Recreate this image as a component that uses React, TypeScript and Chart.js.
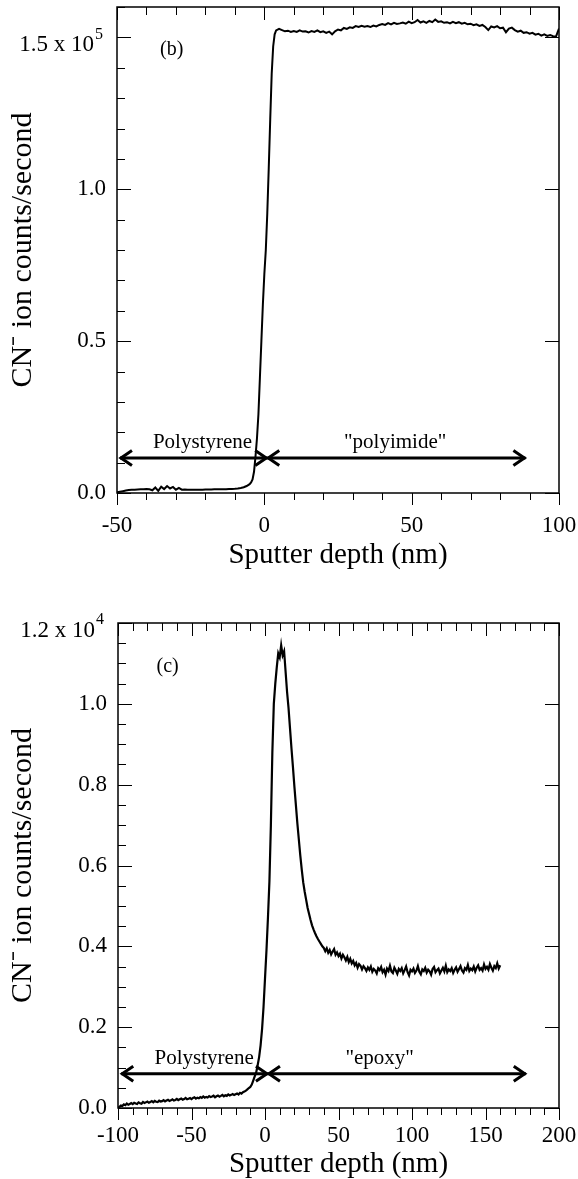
import React, { useEffect, useRef } from 'react';
import { Chart, registerables } from 'chart.js';

Chart.register(...registerables);

const SERIF = '"Liberation Serif", "Times New Roman", Times, serif';

// ---------------- Panel (b): polystyrene on "polyimide" ----------------
const depthB = [
  -50, -49, -48, -47, -46, -45, -44, -43, -42, -41,
  -40, -39, -38, -37, -36, -35, -34, -33, -32, -31,
  -30, -29, -28, -27, -26, -25, -24, -23, -22, -21,
  -20, -19, -18, -17, -16, -15, -14, -13, -12, -11,
  -10, -9, -8, -7, -6, -5, -4.5, -4, -3.5, -3,
  -2.5, -2, -1.5, -1, -0.5, 0, 0.5, 1, 1.5, 2,
  2.5, 3, 3.5, 4, 5, 6, 7, 8, 9, 10,
  11, 12, 13, 14, 15, 16, 17, 18, 19, 20,
  21, 22, 23, 24, 25, 26, 27, 28, 29, 30,
  31, 32, 33, 34, 35, 36, 37, 38, 39, 40,
  41, 42, 43, 44, 45, 46, 47, 48, 49, 50,
  51, 52, 53, 54, 55, 56, 57, 58, 59, 60,
  61, 62, 63, 64, 65, 66, 67, 68, 69, 70,
  71, 72, 73, 74, 75, 76, 77, 78, 79, 80,
  81, 82, 83, 84, 85, 86, 87, 88, 89, 90,
  91, 92, 93, 94, 95, 96, 97, 98, 99, 100,
];
const countsB = [
  200, 400, 600, 800, 950, 1050, 1100, 1150, 1200, 1250,
  1300, 1200, 900, 1800, 700, 2100, 1300, 2300, 1500, 2000,
  1100, 1700, 1100, 1150, 1100, 1100, 1100, 1100, 1100, 1100,
  1150, 1150, 1150, 1200, 1200, 1200, 1250, 1250, 1300, 1350,
  1400, 1500, 1650, 1900, 2300, 2900, 3500, 4500, 7000, 12000,
  18000, 26000, 38000, 50000, 62000, 72000, 80000, 92000, 107000, 123000,
  138000, 147000, 151000, 152300, 152800, 152400, 152000, 152200, 151800, 152100,
  151800, 152300, 151900, 152000, 151600, 152100, 151800, 152300, 151700, 152000,
  151500, 151900, 151000, 152000, 152600, 152300, 153100, 152800, 153300, 153100,
  153700, 153400, 153800, 153500, 153700, 153400, 153900, 153600, 154100, 154400,
  154100, 154700, 154300, 154800, 154400, 154600, 154900, 154500, 155200, 154700,
  155000, 155700, 154900, 155300, 154800, 155400, 155000, 155900, 155100, 155300,
  154800, 155000, 154600, 155100, 154700, 155000, 154500, 154800, 154300, 154500,
  154000, 154300, 153800, 154100, 153400, 152400, 153600, 153300, 153700, 153000,
  153200, 151700, 152900, 153200, 152400, 151900, 152200, 151500, 151700, 151200,
  151500, 150900, 151200, 150600, 151000, 150500, 150800, 150400, 150300, 152900,
];
const xTicksB = [-50, 0, 50, 100];
const xTickLabelsB = ['-50', '0', '50', '100'];
const yTicksB = [0, 50000, 100000, 150000];
const yTickLabelsB = ['0.0', '0.5', '1.0', '1.5 x 10'];
const yExponentB = '5';
const arrowSpansB = [[-49, 1], [1, 88.6]];
const arrowLevelB = 11500;
const regionNamesB = ['Polystyrene', '"polyimide"'];
const regionCentersB = [-21, 44.4];
const panelTagB = '(b)';
const panelTagAtB = [-35.4, 146000];

// ---------------- Panel (c): polystyrene on "epoxy" ----------------
const depthC = [
  -100, -99, -98, -97, -96, -95, -94, -93, -92, -91,
  -90, -89, -88, -87, -86, -85, -84, -83, -82, -81,
  -80, -79, -78, -77, -76, -75, -74, -73, -72, -71,
  -70, -69, -68, -67, -66, -65, -64, -63, -62, -61,
  -60, -59, -58, -57, -56, -55, -54, -53, -52, -51,
  -50, -49, -48, -47, -46, -45, -44, -43, -42, -41,
  -40, -39, -38, -37, -36, -35, -34, -33, -32, -31,
  -30, -29, -28, -27, -26, -25, -24, -23, -22, -21,
  -20, -19, -18, -17, -16, -15, -14, -13, -12, -11,
  -10, -9, -8, -7, -6, -5, -4, -3, -2, -1,
  0, 1, 2, 3, 4, 5, 6, 7, 8, 9,
  10, 11, 12, 13, 14, 15, 16, 17, 18, 19,
  20, 21, 22, 23, 24, 25, 26, 27, 28, 29,
  30, 31, 32, 33, 34, 35, 36, 37, 38, 39,
  40, 41, 42, 43, 44, 45, 46, 47, 48, 49,
  50, 51, 52, 53, 54, 55, 56, 57, 58, 59,
  60, 61, 62, 63, 64, 65, 66, 67, 68, 69,
  70, 71, 72, 73, 74, 75, 76, 77, 78, 79,
  80, 81, 82, 83, 84, 85, 86, 87, 88, 89,
  90, 91, 92, 93, 94, 95, 96, 97, 98, 99,
  100, 101, 102, 103, 104, 105, 106, 107, 108, 109,
  110, 111, 112, 113, 114, 115, 116, 117, 118, 119,
  120, 121, 122, 123, 124, 125, 126, 127, 128, 129,
  130, 131, 132, 133, 134, 135, 136, 137, 138, 139,
  140, 141, 142, 143, 144, 145, 146, 147, 148, 149,
  150, 151, 152, 153, 154, 155, 156, 157, 158, 159,
  160,
];
const countsC = [
  0, 30, 60, 50, 90, 70, 110, 80, 100, 120,
  95, 130, 110, 100, 140, 120, 105, 150, 125, 140,
  160, 130, 150, 170, 140, 175, 155, 145, 180, 160,
  170, 195, 165, 185, 205, 175, 190, 215, 185, 200,
  225, 195, 215, 235, 205, 220, 250, 215, 230, 245,
  220, 250, 265, 230, 255, 240, 270, 250, 285, 255,
  275, 260, 295, 270, 285, 305, 265, 290, 310, 280,
  300, 325, 290, 315, 300, 335, 310, 325, 345, 320,
  340, 360, 335, 375, 355, 390, 405, 430, 460, 495,
  520, 580, 680, 780, 880, 1060, 1260, 1550, 1950, 2500,
  3200, 3900, 4700, 5600, 7000, 8800, 10000, 10500, 10900, 11250,
  11150, 11450, 11200, 11300, 10800, 10300, 9900, 9400, 8900, 8440,
  7950, 7500, 7050, 6650, 6250, 5900, 5580, 5350, 5150, 4950,
  4800, 4650, 4520, 4420, 4330, 4250, 4180, 4120, 4060, 4000,
  3960, 3880, 3950, 3840, 3910, 3800, 3870, 3930, 3790, 3850,
  3760, 3820, 3700, 3790, 3730, 3650, 3740, 3610, 3690, 3580,
  3640, 3530, 3590, 3470, 3560, 3520, 3430, 3510, 3460, 3390,
  3480, 3420, 3500, 3370, 3440, 3400, 3330, 3460, 3410, 3490,
  3360, 3420, 3300, 3450, 3390, 3520, 3380, 3340, 3470, 3400,
  3320, 3440, 3390, 3460, 3330, 3410, 3500, 3360, 3280, 3420,
  3380, 3450, 3340, 3400, 3510, 3370, 3310, 3430, 3390, 3470,
  3350, 3420, 3380, 3300, 3440, 3490, 3360, 3410, 3450, 3330,
  3400, 3470, 3380, 3520, 3360, 3430, 3390, 3460, 3340, 3420,
  3480, 3370, 3440, 3510, 3400, 3350, 3460, 3420, 3540, 3390,
  3450, 3410, 3500, 3380, 3470, 3530, 3420, 3460, 3400, 3550,
  3440, 3490, 3420, 3560, 3470, 3400, 3510, 3460, 3580, 3450,
  3530,
];
const xTicksC = [-100, -50, 0, 50, 100, 150, 200];
const xTickLabelsC = ['-100', '-50', '0', '50', '100', '150', '200'];
const yTicksC = [0, 2000, 4000, 6000, 8000, 10000, 12000];
const yTickLabelsC = ['0.0', '0.2', '0.4', '0.6', '0.8', '1.0', '1.2 x 10'];
const yExponentC = '4';
const arrowSpansC = [[-97.8, 2], [2, 177.4]];
const arrowLevelC = 850;
const regionNamesC = ['Polystyrene', '"epoxy"'];
const regionCentersC = [-41.4, 78];
const panelTagC = '(c)';
const panelTagAtC = [-73.8, 10910];

const X_TITLE = 'Sputter depth (nm)';
const Y_TITLE = 'CN\u207B ion counts/second';

const isMultiple = (v: number, step: number) => Math.abs(v / step - Math.round(v / step)) < 1e-6;

const frameTicks = {
  id: 'frameTicks',
  afterDatasetsDraw(chart: any, _args: any, o: any) {
    const { ctx, chartArea: a, scales } = chart;
    const xs = scales.x;
    const ys = scales.y;
    ctx.save();
    ctx.strokeStyle = '#000';
    ctx.fillStyle = '#000';
    ctx.lineWidth = 1;
    for (let v = o.xMin; v <= o.xMax + 1e-9; v += o.xMinor) {
      const px = Math.round(xs.getPixelForValue(v)) + 0.5;
      const major = isMultiple(v, o.xMajor);
      ctx.beginPath();
      ctx.moveTo(px, a.bottom);
      ctx.lineTo(px, a.bottom + (major ? 12 : 7));
      ctx.moveTo(px, a.top);
      ctx.lineTo(px, a.top + (major ? 13 : 8));
      ctx.stroke();
    }
    for (let v = o.yMin; v <= o.yMax + 1e-9; v += o.yMinor) {
      const py = Math.round(ys.getPixelForValue(v)) + 0.5;
      const major = isMultiple(v, o.yMajor);
      ctx.beginPath();
      ctx.moveTo(a.left, py);
      ctx.lineTo(a.left + (major ? 14 : 8), py);
      if (major) {
        ctx.moveTo(a.right, py);
        ctx.lineTo(a.right - 14, py);
      }
      ctx.stroke();
    }
    ctx.lineWidth = 1.5;
    ctx.strokeRect(a.left, a.top, a.right - a.left, a.bottom - a.top);

    const ey = ys.getPixelForValue(o.expValue);
    ctx.font = `23px ${SERIF}`;
    ctx.textAlign = 'right';
    ctx.textBaseline = 'middle';
    ctx.fillText(o.expBase, a.left - 23, ey + 8);
    ctx.font = `16px ${SERIF}`;
    ctx.textAlign = 'left';
    ctx.fillText(o.expSup, a.left - 22, ey - 3);

    const ay = ys.getPixelForValue(o.arrowLevel);
    ctx.lineWidth = 3;
    ctx.lineJoin = 'miter';
    const head = 12;
    const hw = 7.5;
    o.arrows.forEach((s: number[]) => {
      const x1 = xs.getPixelForValue(s[0]);
      const x2 = xs.getPixelForValue(s[1]);
      ctx.beginPath();
      ctx.moveTo(x1, ay);
      ctx.lineTo(x2, ay);
      ctx.stroke();
      ctx.beginPath();
      ctx.moveTo(x1 + head, ay - hw);
      ctx.lineTo(x1 + 1, ay);
      ctx.lineTo(x1 + head, ay + hw);
      ctx.moveTo(x2 - head, ay - hw);
      ctx.lineTo(x2 - 1, ay);
      ctx.lineTo(x2 - head, ay + hw);
      ctx.stroke();
    });
    ctx.font = `21px ${SERIF}`;
    ctx.textAlign = 'center';
    ctx.textBaseline = 'alphabetic';
    o.names.forEach((t: string, i: number) => {
      ctx.fillText(t, xs.getPixelForValue(o.centers[i]), ay - 10);
    });
    ctx.font = `20px ${SERIF}`;
    ctx.textAlign = 'left';
    ctx.textBaseline = 'middle';
    ctx.fillText(o.tag, xs.getPixelForValue(o.tagAt[0]), ys.getPixelForValue(o.tagAt[1]));
    ctx.restore();
  },
};

type PanelSpec = {
  top: number;
  height: number;
  depth: number[];
  counts: number[];
  xMin: number;
  xMax: number;
  yMax: number;
  xTicks: number[];
  xTickLabels: string[];
  yTicks: number[];
  yTickLabels: string[];
  yExp: string;
  yMinor: number;
  yMajor: number;
  padTop: number;
  yAxisWidth: number;
  xAxisHeight: number;
  xTickPad: number;
  xTitlePad: number;
  lineWidth: number;
  arrows: number[][];
  arrowLevel: number;
  names: string[];
  centers: number[];
  tag: string;
  tagAt: number[];
};

function Panel({ spec }: { spec: PanelSpec }) {
  const ref = useRef<HTMLCanvasElement>(null);
  useEffect(() => {
    const s = spec;
    const chart = new Chart(ref.current as HTMLCanvasElement, {
      type: 'line',
      data: {
        datasets: [
          {
            data: s.depth.map((d, i) => ({ x: d, y: s.counts[i] })),
            borderColor: '#000',
            borderWidth: s.lineWidth,
            pointRadius: 0,
            tension: 0,
            fill: false,
          },
        ],
      },
      options: {
        responsive: false,
        animation: false,
        devicePixelRatio: 1,
        layout: { padding: { top: s.padTop, right: 19, left: 0, bottom: 0 } },
        plugins: {
          legend: { display: false },
          tooltip: { enabled: false },
          frameTicks: {
            xMin: s.xMin,
            xMax: s.xMax,
            xMinor: 10,
            xMajor: 50,
            yMin: 0,
            yMax: s.yMax,
            yMinor: s.yMinor,
            yMajor: s.yMajor,
            expValue: s.yTicks[s.yTicks.length - 1],
            expBase: s.yTickLabels[s.yTickLabels.length - 1],
            expSup: s.yExp,
            arrows: s.arrows,
            arrowLevel: s.arrowLevel,
            names: s.names,
            centers: s.centers,
            tag: s.tag,
            tagAt: s.tagAt,
          },
        } as any,
        scales: {
          x: {
            type: 'linear',
            position: 'bottom',
            min: s.xMin,
            max: s.xMax,
            afterBuildTicks: (sc: any) => {
              sc.ticks = s.xTicks.map((v) => ({ value: v }));
            },
            afterFit: (sc: any) => {
              sc.height = s.xAxisHeight;
              sc.paddingLeft = 0;
              sc.paddingRight = 0;
            },
            ticks: {
              autoSkip: false,
              maxRotation: 0,
              padding: s.xTickPad,
              color: '#000',
              font: { family: SERIF, size: 23 },
              callback: (_v: any, i: number) => s.xTickLabels[i],
            },
            grid: { display: false, drawTicks: false },
            border: { display: false },
            title: {
              display: true,
              text: X_TITLE,
              color: '#000',
              font: { family: SERIF, size: 29, lineHeight: 1 },
              padding: { top: 0, bottom: s.xTitlePad },
            },
          },
          y: {
            type: 'linear',
            position: 'left',
            min: 0,
            max: s.yMax,
            afterBuildTicks: (sc: any) => {
              sc.ticks = s.yTicks.map((v) => ({ value: v }));
            },
            afterFit: (sc: any) => {
              sc.width = s.yAxisWidth;
              sc.paddingTop = 0;
              sc.paddingBottom = 0;
            },
            ticks: {
              padding: 11,
              color: '#000',
              font: { family: SERIF, size: 23 },
              callback: (_v: any, i: number) => (i === s.yTicks.length - 1 ? '' : s.yTickLabels[i]),
            },
            grid: { display: false, drawTicks: false },
            border: { display: false },
            title: {
              display: true,
              text: Y_TITLE,
              color: '#000',
              font: { family: SERIF, size: 30, lineHeight: 1 },
              padding: { top: 8, bottom: 0 },
            },
          },
        },
      },
      plugins: [frameTicks],
    } as any);
    return () => chart.destroy();
  }, [spec]);
  return (
    <canvas
      ref={ref}
      width={578}
      height={spec.height}
      style={{ position: 'absolute', left: 0, top: spec.top, width: 578, height: spec.height }}
    />
  );
}

const specB: PanelSpec = {
  top: 0,
  height: 580,
  depth: depthB,
  counts: countsB,
  xMin: -50,
  xMax: 100,
  yMax: 160000,
  xTicks: xTicksB,
  xTickLabels: xTickLabelsB,
  yTicks: yTicksB,
  yTickLabels: yTickLabelsB,
  yExp: yExponentB,
  yMinor: 10000,
  yMajor: 50000,
  padTop: 7,
  yAxisWidth: 117,
  xAxisHeight: 87,
  xTickPad: 19,
  xTitlePad: 10,
  lineWidth: 2,
  arrows: arrowSpansB,
  arrowLevel: arrowLevelB,
  names: regionNamesB,
  centers: regionCentersB,
  tag: panelTagB,
  tagAt: panelTagAtB,
};

const specC: PanelSpec = {
  top: 580,
  height: 599,
  depth: depthC,
  counts: countsC,
  xMin: -100,
  xMax: 200,
  yMax: 12000,
  xTicks: xTicksC,
  xTickLabels: xTickLabelsC,
  yTicks: yTicksC,
  yTickLabels: yTickLabelsC,
  yExp: yExponentC,
  yMinor: 500,
  yMajor: 2000,
  padTop: 43,
  yAxisWidth: 118,
  xAxisHeight: 71,
  xTickPad: 14,
  xTitlePad: 0,
  lineWidth: 2.2,
  arrows: arrowSpansC,
  arrowLevel: arrowLevelC,
  names: regionNamesC,
  centers: regionCentersC,
  tag: panelTagC,
  tagAt: panelTagAtC,
};

export default function App() {
  return (
    <div style={{ position: 'absolute', left: 0, top: 0, width: 578, height: 1179, background: '#fff' }}>
      <Panel spec={specB} />
      <Panel spec={specC} />
    </div>
  );
}
